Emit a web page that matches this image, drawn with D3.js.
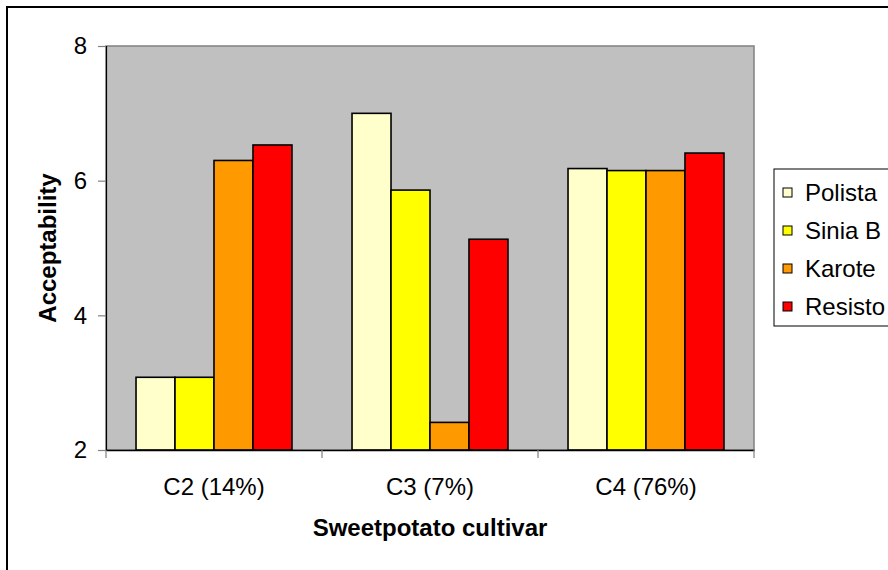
<!DOCTYPE html>
<html>
<head>
<meta charset="utf-8">
<script src="https://cdn.jsdelivr.net/npm/d3@7"></script>
<style>
  html, body { margin: 0; padding: 0; background: #fff; }
  svg { display: block; }
  text { font-family: Arial, "Liberation Sans", sans-serif; fill: #000; }
</style>
</head>
<body>
<svg id="chart" width="888" height="570"></svg>
<script>
const categories = ["C2 (14%)", "C3 (7%)", "C4 (76%)"];
const series = ["Polista", "Sinia B", "Karote", "Resisto"];
const polista = [3.08, 7.0, 6.18];
const siniaB = [3.08, 5.86, 6.15];
const karote = [6.30, 2.41, 6.15];
const resisto = [6.53, 5.13, 6.41];
const yTicks = [2, 4, 6, 8];
const colors = ["#FFFFCC", "#FFFF00", "#FF9900", "#FF0000"];

const values = [polista, siniaB, karote, resisto];
const FONT = "Arial, 'Liberation Sans', sans-serif";

const svg = d3.select("#chart");

// outer chart frame
svg.append("rect")
  .attr("x", 7).attr("y", 7)
  .attr("width", 1000).attr("height", 1000)
  .attr("fill", "#fff").attr("stroke", "#000").attr("stroke-width", 2);

const plot = { left: 106, right: 754, top: 46, bottom: 450 };

const x = d3.scaleBand().domain(categories).range([plot.left, plot.right]).padding(0);
const gap = x.bandwidth() * 0.139;
const xs = d3.scaleBand().domain(series).range([gap, x.bandwidth() - gap]).padding(0);
const y = d3.scaleLinear().domain([2, 8]).range([plot.bottom, plot.top]);

// plot background
svg.append("rect")
  .attr("x", plot.left).attr("y", plot.top)
  .attr("width", plot.right - plot.left).attr("height", plot.bottom - plot.top)
  .attr("fill", "#C0C0C0").attr("stroke", "#808080").attr("stroke-width", 1.5);

// bars
categories.forEach((c, ci) => {
  series.forEach((s, si) => {
    const v = values[si][ci];
    svg.append("rect")
      .attr("x", x(c) + xs(s))
      .attr("y", y(v))
      .attr("width", xs.bandwidth())
      .attr("height", y(2) - y(v))
      .attr("fill", colors[si])
      .attr("stroke", "#000")
      .attr("stroke-width", 1.6);
  });
});

// Y axis
const yAxis = d3.axisLeft(y).tickValues(yTicks).tickSize(8).tickPadding(11).tickFormat(d3.format("d"));
const gy = svg.append("g").attr("transform", `translate(${plot.left},0)`).call(yAxis);
gy.select(".domain").attr("stroke", "#000").attr("stroke-width", 1.2);
gy.selectAll(".tick line").attr("stroke", "#808080").attr("stroke-width", 1.2);
gy.selectAll(".tick text").style("font-size", "24px").style("font-family", FONT).attr("fill", "#000");

// X axis
const xAxis = d3.axisBottom(x).tickSize(0).tickPadding(28);
const gx = svg.append("g").attr("transform", `translate(0,${plot.bottom})`).call(xAxis);
gx.select(".domain").attr("stroke", "#000").attr("stroke-width", 1.5);
gx.selectAll(".tick text").style("font-size", "24px").style("font-family", FONT).attr("fill", "#000");
// boundary ticks between categories
const bounds = categories.map(c => x(c)).concat([plot.right]);
svg.append("g").selectAll("line").data(bounds).join("line")
  .attr("x1", d => d).attr("x2", d => d)
  .attr("y1", plot.bottom).attr("y2", plot.bottom + 8)
  .attr("stroke", "#808080").attr("stroke-width", 1.2);

// axis titles
svg.append("text")
  .attr("x", (plot.left + plot.right) / 2).attr("y", 536)
  .attr("text-anchor", "middle")
  .style("font-size", "24px").style("font-weight", "bold")
  .text("Sweetpotato cultivar");

svg.append("text")
  .attr("transform", `translate(56,${(plot.top + plot.bottom) / 2}) rotate(-90)`)
  .attr("text-anchor", "middle")
  .style("font-size", "24px").style("font-weight", "bold")
  .text("Acceptability");

// legend
const lg = svg.append("g");
lg.append("rect")
  .attr("x", 774).attr("y", 169).attr("width", 200).attr("height", 157)
  .attr("fill", "#fff").attr("stroke", "#000").attr("stroke-width", 1);
const rowY = d3.scalePoint().domain(series).range([192, 306]);
series.forEach((s, i) => {
  lg.append("rect")
    .attr("x", 783).attr("y", rowY(s) - 4).attr("width", 9).attr("height", 9)
    .attr("fill", colors[i]).attr("stroke", "#000").attr("stroke-width", 1);
  lg.append("text")
    .attr("x", 805).attr("y", rowY(s) + 9)
    .style("font-size", "24px")
    .text(s);
});
</script>
</body>
</html>
